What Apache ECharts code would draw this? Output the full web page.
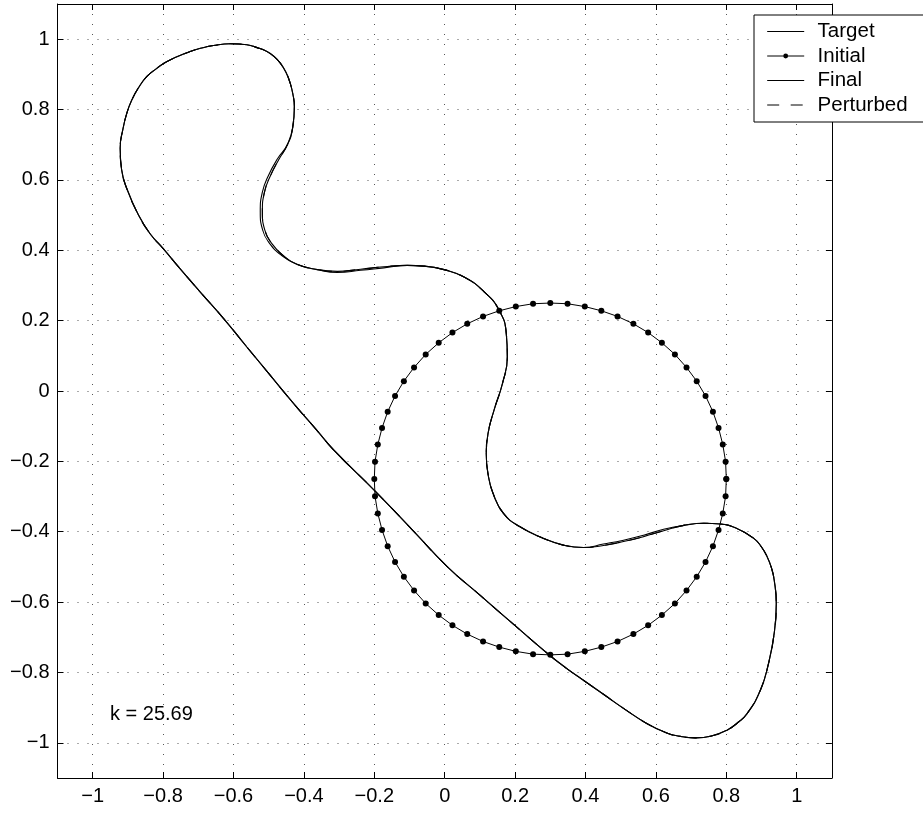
<!DOCTYPE html>
<html>
<head>
<meta charset="utf-8">
<script src="https://cdn.jsdelivr.net/npm/echarts@6/dist/echarts.min.js"></script>
<style>
html, body { margin: 0; padding: 0; background: #fff; }
#chart { width: 923px; height: 813px; }
</style>
</head>
<body>
<div id="chart"></div>
<script>
// Tick positions shared by both axes
const tickValues = [-1, -0.8, -0.6, -0.4, -0.2, 0, 0.2, 0.4, 0.6, 0.8, 1];

// Target contour (closed curve, starting on the long diagonal)
const targetX = [-0.496, -0.562, -0.628, -0.695, -0.752, -0.799, -0.837, -0.870, -0.903, -0.918,
  -0.922, -0.914, -0.903, -0.889, -0.870, -0.846, -0.818, -0.790, -0.723, -0.690,
  -0.657, -0.609, -0.562, -0.533, -0.505, -0.485, -0.467, -0.451, -0.439, -0.431,
  -0.427, -0.432, -0.447, -0.470, -0.495, -0.512, -0.518, -0.511, -0.491, -0.460,
  -0.420, -0.362, -0.305, -0.239, -0.173, -0.106, -0.059, -0.002, 0.055, 0.112,
  0.155, 0.175, 0.178, 0.164, 0.140, 0.123, 0.118, 0.123, 0.137, 0.167,
  0.214, 0.281, 0.337, 0.394, 0.451, 0.508, 0.565, 0.622, 0.679, 0.736,
  0.783, 0.830, 0.878, 0.899, 0.916, 0.928, 0.936, 0.942, 0.936, 0.920,
  0.897, 0.859, 0.832, 0.802, 0.760, 0.712, 0.665, 0.631, 0.574, 0.508,
  0.451, 0.394, 0.347, 0.298, 0.200, 0.101, 0.007, -0.088, -0.197, -0.316,
  -0.363, -0.429, -0.496];
const targetY = [0.045, 0.125, 0.206, 0.282, 0.348, 0.404, 0.447, 0.500, 0.575, 0.630,
  0.690, 0.745, 0.790, 0.827, 0.862, 0.894, 0.917, 0.936, 0.965, 0.975,
  0.982, 0.987, 0.984, 0.976, 0.965, 0.951, 0.932, 0.906, 0.875, 0.842,
  0.809, 0.748, 0.700, 0.660, 0.612, 0.565, 0.510, 0.457, 0.419, 0.386,
  0.360, 0.345, 0.340, 0.346, 0.353, 0.357, 0.355, 0.345, 0.324, 0.282,
  0.229, 0.163, 0.097, 0.021, -0.055, -0.121, -0.178, -0.235, -0.290, -0.348,
  -0.386, -0.419, -0.438, -0.445, -0.439, -0.428, -0.414, -0.397, -0.382, -0.376,
  -0.378, -0.391, -0.419, -0.442, -0.471, -0.502, -0.537, -0.604, -0.689, -0.774,
  -0.850, -0.917, -0.943, -0.964, -0.980, -0.986, -0.981, -0.972, -0.945, -0.902,
  -0.862, -0.822, -0.789, -0.751, -0.667, -0.581, -0.499, -0.399, -0.285, -0.167,
  -0.112, -0.036, 0.045];

// Final contour after optimisation
const finalX = [-0.496, -0.562, -0.628, -0.695, -0.752, -0.799, -0.837, -0.870, -0.903, -0.918,
  -0.922, -0.914, -0.903, -0.889, -0.870, -0.846, -0.818, -0.790, -0.723, -0.690,
  -0.657, -0.609, -0.562, -0.533, -0.505, -0.485, -0.467, -0.451, -0.439, -0.431,
  -0.427, -0.432, -0.447, -0.475, -0.501, -0.518, -0.524, -0.517, -0.497, -0.464,
  -0.420, -0.362, -0.305, -0.239, -0.173, -0.106, -0.059, -0.002, 0.055, 0.112,
  0.155, 0.175, 0.178, 0.164, 0.140, 0.123, 0.118, 0.123, 0.137, 0.167,
  0.214, 0.281, 0.337, 0.394, 0.451, 0.508, 0.565, 0.622, 0.679, 0.736,
  0.783, 0.830, 0.878, 0.899, 0.916, 0.928, 0.936, 0.942, 0.936, 0.920,
  0.897, 0.859, 0.832, 0.802, 0.760, 0.712, 0.665, 0.631, 0.574, 0.508,
  0.451, 0.394, 0.347, 0.298, 0.200, 0.101, 0.007, -0.088, -0.197, -0.316,
  -0.363, -0.429, -0.496];
const finalY = [0.045, 0.125, 0.206, 0.282, 0.348, 0.404, 0.447, 0.500, 0.575, 0.630,
  0.690, 0.745, 0.790, 0.827, 0.862, 0.894, 0.917, 0.936, 0.965, 0.975,
  0.982, 0.987, 0.984, 0.976, 0.965, 0.951, 0.932, 0.906, 0.875, 0.842,
  0.809, 0.748, 0.700, 0.660, 0.612, 0.565, 0.510, 0.457, 0.419, 0.386,
  0.360, 0.345, 0.337, 0.343, 0.350, 0.357, 0.355, 0.345, 0.324, 0.282,
  0.229, 0.163, 0.097, 0.021, -0.055, -0.121, -0.178, -0.235, -0.290, -0.348,
  -0.386, -0.419, -0.438, -0.445, -0.435, -0.424, -0.410, -0.393, -0.382, -0.376,
  -0.378, -0.391, -0.419, -0.442, -0.471, -0.502, -0.537, -0.604, -0.689, -0.774,
  -0.850, -0.917, -0.943, -0.964, -0.980, -0.986, -0.981, -0.972, -0.945, -0.902,
  -0.862, -0.822, -0.789, -0.751, -0.667, -0.581, -0.499, -0.399, -0.285, -0.167,
  -0.112, -0.036, 0.045];

// Perturbed contour follows the target
const perturbedX = targetX.slice();
const perturbedY = targetY.slice();

// Initial contour: sampled circle
const initialX = [0.800, 0.798, 0.790, 0.778, 0.762, 0.741, 0.716, 0.687, 0.654, 0.617,
  0.578, 0.536, 0.491, 0.445, 0.398, 0.349, 0.300, 0.251, 0.202, 0.155,
  0.109, 0.064, 0.022, -0.017, -0.054, -0.087, -0.116, -0.141, -0.162, -0.178,
  -0.190, -0.198, -0.200, -0.198, -0.190, -0.178, -0.162, -0.141, -0.116, -0.087,
  -0.054, -0.017, 0.022, 0.064, 0.109, 0.155, 0.202, 0.251, 0.300, 0.349,
  0.398, 0.445, 0.491, 0.536, 0.578, 0.617, 0.654, 0.687, 0.716, 0.741,
  0.762, 0.778, 0.790, 0.798, 0.800];
const initialY = [-0.250, -0.201, -0.152, -0.105, -0.059, -0.014, 0.028, 0.067, 0.104, 0.137,
  0.166, 0.191, 0.212, 0.228, 0.240, 0.248, 0.250, 0.248, 0.240, 0.228,
  0.212, 0.191, 0.166, 0.137, 0.104, 0.067, 0.028, -0.014, -0.059, -0.105,
  -0.152, -0.201, -0.250, -0.299, -0.348, -0.395, -0.441, -0.486, -0.528, -0.567,
  -0.604, -0.637, -0.666, -0.691, -0.712, -0.728, -0.740, -0.748, -0.750, -0.748,
  -0.740, -0.728, -0.712, -0.691, -0.666, -0.637, -0.604, -0.567, -0.528, -0.486,
  -0.441, -0.395, -0.348, -0.299, -0.250];

const seriesNames = ['Target', 'Initial', 'Final', 'Perturbed'];
const annotation = 'k = 25.69';

const FONT = '"Liberation Sans", Arial, Helvetica, sans-serif';
const pairs = (xs, ys) => xs.map((x, i) => [x, ys[i]]);
const fmt = v => String(Math.round(v * 10) / 10).replace('-', '\u2212');

function makeAxis(position, main) {
  return {
    type: 'value',
    position: position,
    min: -1.1,
    max: 1.1,
    axisLine: { show: true, onZero: false, lineStyle: { color: '#000', width: 1 } },
    axisTick: { show: true, inside: true, length: 6, customValues: tickValues,
      lineStyle: { color: '#000', width: 1 } },
    axisLabel: main ? {
      show: true, customValues: tickValues, formatter: fmt,
      fontSize: 20, fontFamily: FONT, color: '#000', margin: 8
    } : { show: false },
    splitLine: main ? { show: true, lineStyle: { color: '#555', width: 1, type: [1, 9] } }
                    : { show: false }
  };
}

// Legend entries: only the Initial entry shows a marker
const legendData = seriesNames.map(n => n === 'Initial'
  ? { name: n }
  : { name: n, itemStyle: { opacity: 0 } });

const smoothLine = { symbol: 'none', smooth: 0.5, smoothMonotone: 'none' };

const chart = echarts.init(document.getElementById('chart'), null, { renderer: 'canvas' });
chart.setOption({
  animation: false,
  backgroundColor: '#fff',
  grid: { left: 57.5, top: 4, width: 774.4, height: 774, outerBoundsMode: 'none', containLabel: false },
  xAxis: [makeAxis('bottom', true), makeAxis('top', false)],
  yAxis: [makeAxis('left', true), makeAxis('right', false)],
  legend: {
    data: legendData,
    orient: 'vertical',
    left: 754,
    top: 15,
    padding: [4.5, 40, 5, 12.7],
    itemWidth: 37,
    itemHeight: 6,
    itemGap: 0.5,
    selectedMode: false,
    backgroundColor: '#fff',
    borderColor: '#000',
    borderWidth: 1,
    borderRadius: 0,
    lineStyle: { width: 1 },
    textStyle: { fontSize: 20.5, fontFamily: FONT, color: '#000', lineHeight: 24, padding: [0, 0, 0, 8.4] }
  },
  graphic: [{
    type: 'text', left: 110, top: 704,
    style: { text: annotation, font: '20px ' + FONT, fill: '#000' }
  }],
  series: [
    Object.assign({
      name: 'Perturbed', type: 'line', data: pairs(perturbedX, perturbedY), z: 1,
      itemStyle: { color: '#000' },
      lineStyle: { color: '#000', width: 1.1, type: [12, 11.5] }
    }, smoothLine),
    {
      name: 'Initial', type: 'line', data: pairs(initialX, initialY),
      symbol: 'circle', symbolSize: 6, showSymbol: true, z: 2,
      itemStyle: { color: '#000' },
      lineStyle: { color: '#000', width: 1 }
    },
    Object.assign({
      name: 'Final', type: 'line', data: pairs(finalX, finalY), z: 3,
      itemStyle: { color: '#000' },
      lineStyle: { color: '#000', width: 1.1 }
    }, smoothLine),
    Object.assign({
      name: 'Target', type: 'line', data: pairs(targetX, targetY), z: 4,
      itemStyle: { color: '#000' },
      lineStyle: { color: '#000', width: 1.1 }
    }, smoothLine)
  ]
});
</script>
</body>
</html>
